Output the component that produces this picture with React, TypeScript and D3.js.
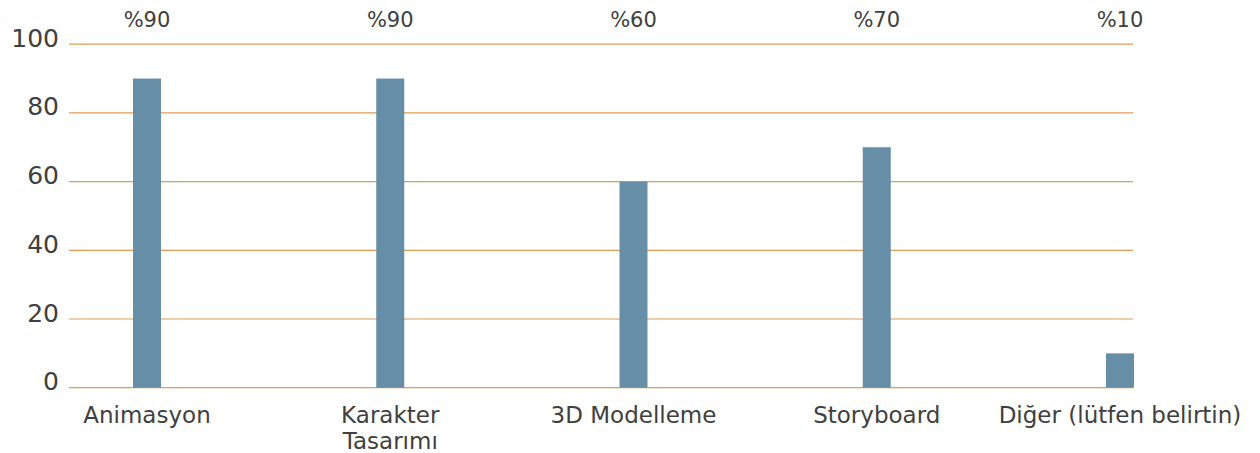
import React from "react";
import * as d3 from "d3";

// Survey results: share of respondents per skill area
const categories: string[] = [
  "Animasyon",
  "Karakter Tasarımı",
  "3D Modelleme",
  "Storyboard",
  "Diğer (lütfen belirtin)",
];
const values: number[] = [90, 90, 60, 70, 10];
const valueLabels: string[] = ["%90", "%90", "%60", "%70", "%10"];
const yTicks: number[] = [0, 20, 40, 60, 80, 100];

// Category labels may be split over several lines
const categoryLines: Record<string, string[]> = {
  "Karakter Tasarımı": ["Karakter", "Tasarımı"],
};

const W = 1260;
const H = 453;
const FONT = "'DejaVu Sans', 'Open Sans', sans-serif";
const TEXT = "#404040";
const GRID = "#e09b56";
const BAR = "#668ea7";

export default function App() {
  const y = d3.scaleLinear().domain([0, 100]).range([387.7, 44.2]);
  const x = d3.scalePoint<string>().domain(categories).range([147, 1120]);
  const gridLeft = 69;
  const gridRight = 1133;
  const barW = 28;

  return (
    <svg
      width={W}
      height={H}
      style={{ position: "absolute", left: 0, top: 0, background: "#fff" }}
      fontFamily={FONT}
    >
      {/* horizontal grid lines */}
      {yTicks.map((t) => (
        <line
          key={`g${t}`}
          x1={gridLeft}
          x2={gridRight}
          y1={y(t)}
          y2={y(t)}
          stroke={GRID}
          strokeWidth={1.2}
        />
      ))}
      {/* y tick labels */}
      {yTicks.map((t) => (
        <text
          key={`t${t}`}
          x={59}
          y={y(t) + 2.5}
          textAnchor="end"
          fontSize={25}
          fill={TEXT}
        >
          {t}
        </text>
      ))}
      {/* bars */}
      {categories.map((c, i) => (
        <rect
          key={`b${c}`}
          x={(x(c) as number) - barW / 2}
          y={y(values[i])}
          width={barW}
          height={y(0) - y(values[i])}
          fill={BAR}
        />
      ))}
      {/* value labels along the top */}
      {categories.map((c, i) => (
        <text
          key={`v${c}`}
          x={x(c) as number}
          y={26.5}
          textAnchor="middle"
          fontSize={21}
          fill={TEXT}
        >
          {valueLabels[i]}
        </text>
      ))}
      {/* category labels */}
      {categories.map((c) => {
        const lines = categoryLines[c] ?? [c];
        return (
          <text
            key={`c${c}`}
            x={x(c) as number}
            y={423}
            textAnchor="middle"
            fontSize={23}
            fill={TEXT}
          >
            {lines.map((l, j) => (
              <tspan key={j} x={x(c) as number} dy={j === 0 ? 0 : 26}>
                {l}
              </tspan>
            ))}
          </text>
        );
      })}
    </svg>
  );
}
